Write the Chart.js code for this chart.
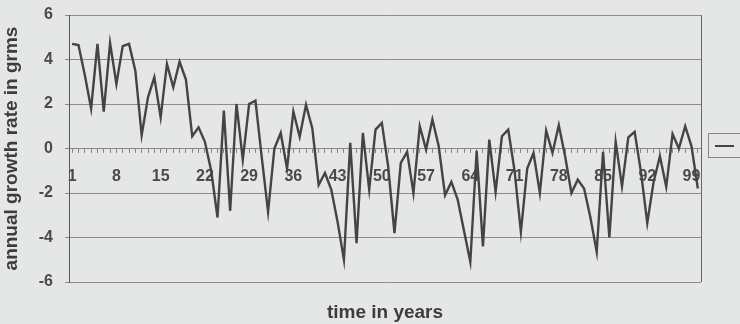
<!DOCTYPE html>
<html>
<head>
<meta charset="utf-8">
<script src="https://cdn.jsdelivr.net/npm/chart.js@4/dist/chart.umd.min.js"></script>
<style>
  body { margin: 0; background: #e4e7e5; }
  #wrap { width: 740px; height: 324px; position: relative; }
</style>
</head>
<body>
<div id="wrap"><canvas id="growthChart"></canvas></div>
<script>
const ctx = document.getElementById('growthChart');

// years 1..100 and the yearly growth rate (grms)
const years = [];
for (let i = 1; i <= 100; i++) years.push(String(i));

const growth = [
  4.7, 4.65, 3.3, 1.8, 4.7, 1.66, 4.74, 2.9, 4.6, 4.7,
  3.5, 0.6, 2.3, 3.2, 1.4, 3.8, 2.75, 3.9, 3.1, 0.55,
  0.95, 0.3, -1.0, -3.1, 1.7, -2.8, 2.0, -0.5, 2.0, 2.15,
  -0.4, -2.85, 0.0, 0.7, -0.9, 1.66, 0.53, 1.96, 0.9, -1.64,
  -1.1, -1.85, -3.3, -5.0, 0.25, -4.25, 0.7, -1.85, 0.85, 1.15,
  -0.8, -3.8, -0.65, -0.15, -2.0, 1.0, -0.05, 1.3, 0.1, -2.1,
  -1.5, -2.3, -3.7, -5.1, -0.1, -4.4, 0.4, -1.95, 0.55, 0.85,
  -1.0, -3.75, -0.9, -0.2, -2.0, 0.8, -0.2, 1.05, -0.35, -2.0,
  -1.4, -1.8, -3.1, -4.65, -0.15, -4.0, 0.3, -1.7, 0.5, 0.75,
  -1.05, -3.35, -1.5, -0.35, -1.72, 0.65, 0.0, 1.0, 0.1, -1.8
];

const labelEvery = 7;
const yTitle = 'annual growth rate in grms';
const xTitle = 'time in years';

// right frame line, bottom axis title and the clipped legend box
const extras = {
  id: 'extras',
  afterDraw(chart) {
    const c = chart.ctx;
    const a = chart.chartArea;
    c.save();
    c.strokeStyle = '#666';
    c.lineWidth = 1;
    c.beginPath();
    c.moveTo(a.right + 0.5, a.top);
    c.lineTo(a.right + 0.5, a.bottom);
    c.stroke();

    c.fillStyle = '#3c3c3c';
    c.font = 'bold 19px "Liberation Sans", Arial, sans-serif';
    c.textAlign = 'center';
    c.textBaseline = 'middle';
    c.fillText(xTitle, (a.left + a.right) / 2, 313);

    c.strokeStyle = '#888';
    c.strokeRect(708.5, 133.5, 40, 24);
    c.strokeStyle = '#444';
    c.lineWidth = 2;
    c.beginPath();
    c.moveTo(715, 146);
    c.lineTo(734, 146);
    c.stroke();
    c.restore();
  }
};

new Chart(ctx, {
  type: 'line',
  data: {
    labels: years,
    datasets: [{
      label: 'Series1',
      data: growth,
      borderColor: '#444',
      borderWidth: 2.4,
      pointRadius: 0,
      tension: 0
    }]
  },
  options: {
    responsive: true,
    maintainAspectRatio: false,
    animation: false,
    layout: { padding: { left: 0, top: 15, right: 39, bottom: 42 } },
    plugins: {
      legend: { display: false },
      tooltip: { enabled: false }
    },
    scales: {
      x: {
        type: 'category',
        position: { y: 0 },
        offset: true,
        afterFit: (scale) => { scale.paddingTop = 0; scale.paddingBottom = 0; },
        grid: { drawOnChartArea: false, drawTicks: true, tickLength: 4, color: '#888' },
        border: { display: true, color: '#888' },
        ticks: {
          autoSkip: false,
          maxRotation: 0,
          padding: 14,
          color: '#4a4a4a',
          font: { family: '"Liberation Sans", Arial, sans-serif', size: 16, weight: 'bold' },
          callback: (v, i) => (i % labelEvery === 0 ? years[i] : '')
        }
      },
      y: {
        min: -6,
        max: 6,
        afterFit: (scale) => {
          scale.width = 69;
          scale.paddingTop = 0;
          scale.paddingBottom = 0;
        },
        grid: { color: '#8c8c8c', tickLength: 4 },
        border: { display: true, color: '#555' },
        ticks: {
          stepSize: 2,
          padding: 12,
          color: '#4a4a4a',
          font: { family: '"Liberation Sans", Arial, sans-serif', size: 16, weight: 'bold' }
        },
        title: {
          display: true,
          text: yTitle,
          color: '#3c3c3c',
          padding: { top: 0, bottom: 0 },
          font: { family: '"Liberation Sans", Arial, sans-serif', size: 19, weight: 'bold' }
        }
      }
    }
  },
  plugins: [extras]
});
</script>
</body>
</html>
